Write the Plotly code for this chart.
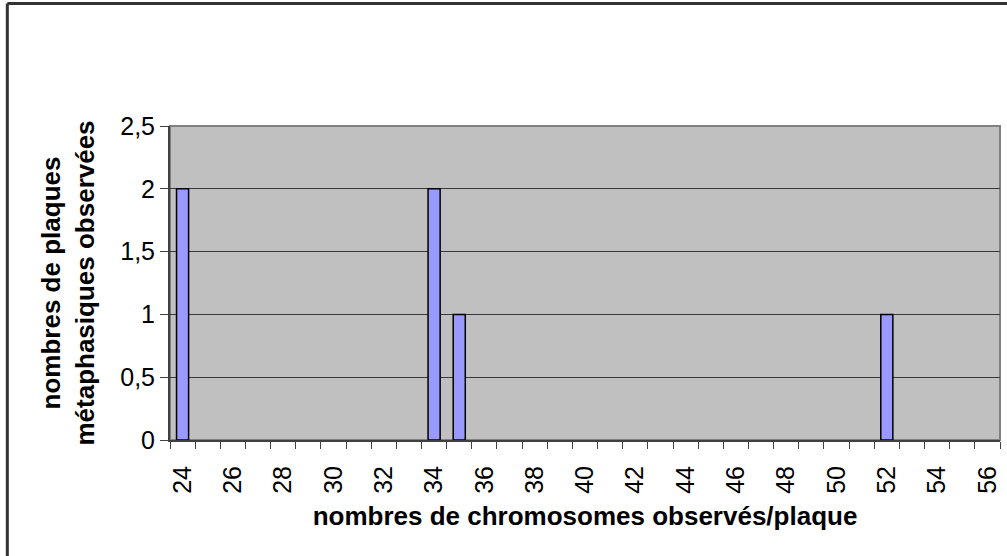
import plotly.graph_objects as go

# données
chromosomes = [24, 34, 35, 52]
plaques = [2, 2, 1, 1]
x_ticks = [24, 26, 28, 30, 32, 34, 36, 38, 40, 42, 44, 46, 48, 50, 52, 54, 56]
x_labels = ["24", "26", "28", "30", "32", "34", "36", "38", "40",
            "42", "44", "46", "48", "50", "52", "54", "56"]
y_ticks = [0, 0.5, 1, 1.5, 2, 2.5]

fig = go.Figure(go.Bar(
    x=chromosomes, y=plaques, width=0.48,
    marker=dict(color="#9999FF", line=dict(color="black", width=1.5)),
))

fig.update_layout(
    width=1007, height=556,
    margin=dict(l=170, r=7, t=126, b=116, autoexpand=False),
    paper_bgcolor="white", plot_bgcolor="#C0C0C0",
    separators=", ",
    showlegend=False,
    font=dict(family="Liberation Sans, Arial, sans-serif", size=25, color="black"),
)

fig.update_xaxes(
    range=[23.5, 56.5], tickmode="array", tickvals=x_ticks, ticktext=x_labels,
    tickangle=-90, ticks="", ticklabelstandoff=14, showgrid=False, zeroline=False,
    showline=True, linecolor="#404040", linewidth=2, automargin=False,
    minor=dict(tick0=23.5, dtick=1, ticks="outside", ticklen=7,
               tickcolor="#404040", tickwidth=1, showgrid=False),
    title=dict(text="<b>nombres de chromosomes observés/plaque</b>",
               font=dict(size=26), standoff=14),
)

fig.update_yaxes(
    range=[0, 2.5], tickmode="array", tickvals=y_ticks,
    ticks="outside", ticklen=8, tickcolor="#404040", tickwidth=1,
    showgrid=True, gridcolor="#383838", gridwidth=1, zeroline=False,
    showline=True, linecolor="#404040", linewidth=2, automargin=False,
    title=dict(text="<b>nombres de plaques<br>métaphasiques observées</b>",
               font=dict(size=26), standoff=18),
)

# bordure grise du cadre du tracé (haut et droite)
fig.add_shape(type="rect", xref="paper", yref="paper", x0=0, x1=1, y0=0, y1=1,
              line=dict(color="#808080", width=2), layer="below")

# bordure extérieure du graphique (haut et gauche)
fig.add_shape(type="line", xref="paper", yref="paper", x0=-0.196, x1=1.01,
              y0=1.39, y1=1.39, line=dict(color="#333333", width=3))
fig.add_shape(type="line", xref="paper", yref="paper", x0=-0.196, x1=-0.196,
              y0=1.39, y1=-0.4, line=dict(color="#333333", width=3))

fig.write_html("out.html", config={"displayModeBar": False},
               post_script="document.body.style.margin = '0';")
